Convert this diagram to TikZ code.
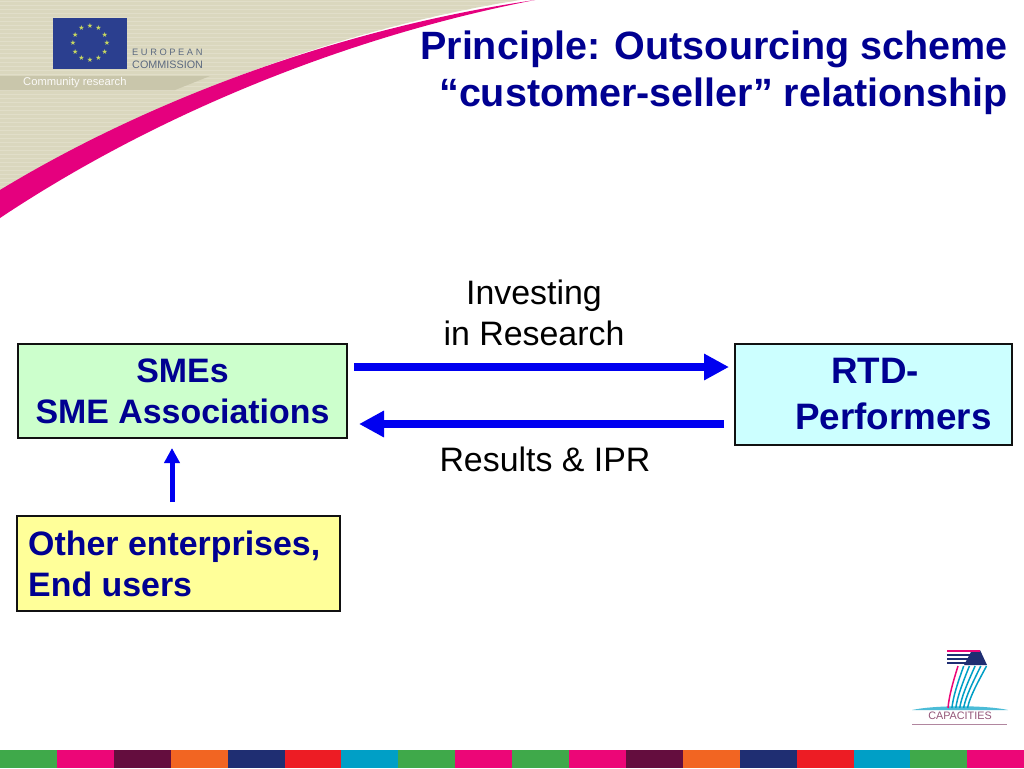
\documentclass[tikz,border=0pt]{standalone}
\usepackage{fontspec}
\setmainfont{Liberation Sans}
\newfontfamily\symfont{DejaVu Sans}
\usetikzlibrary{arrows.meta}
\definecolor{navy}{HTML}{000091}
\definecolor{arrowblue}{HTML}{0000F0}
\definecolor{beige}{HTML}{DAD7BE}
\definecolor{beigeline}{HTML}{E1DEC9}
\definecolor{band}{HTML}{C9C6AB}
\definecolor{swoosh}{HTML}{E5007E}
\definecolor{flagblue}{HTML}{2B3F8F}
\definecolor{ectext}{HTML}{5C6A80}
\definecolor{star}{HTML}{C8D860}
\definecolor{sgreen}{HTML}{3FA94A}
\definecolor{spink}{HTML}{EC0677}
\definecolor{splum}{HTML}{640D3E}
\definecolor{sorange}{HTML}{F26522}
\definecolor{snavy}{HTML}{1F2E72}
\definecolor{sred}{HTML}{ED1C24}
\definecolor{scyan}{HTML}{009FC6}
\definecolor{fillgreen}{HTML}{CCFFCC}
\definecolor{fillcyan}{HTML}{CCFFFF}
\definecolor{fillyellow}{HTML}{FFFF99}
\definecolor{boxline}{HTML}{111111}
\tikzset{
  x=1pt,y=-1pt,
  box/.style={draw=boxline,line width=1.7pt,anchor=north west,inner sep=0pt,outer sep=0pt},
  boxtext/.style={font=\fontsize{33.9}{41}\selectfont\bfseries,text=navy,align=left},
  plain/.style={font=\fontsize{33.9}{40.5}\selectfont,text=black,align=center},
  bigarrow/.style={draw=arrowblue,line width=8pt,-{Triangle[length=25pt,width=25pt]}},
  smallarrow/.style={draw=arrowblue,line width=5pt,-{Triangle[length=15pt,width=15pt]}},
}
\begin{document}
\begin{tikzpicture}
\useasboundingbox (0,0) rectangle (1024,768);
\fill[white] (0,0) rectangle (1024,768);
% header
\fill[beige] (0,0) -- (520,0) .. controls (330,30) and (140,105) .. (0,195) -- cycle;
\begin{scope}
\clip (0,0) -- (520,0) .. controls (330,30) and (140,105) .. (0,195) -- cycle;
\foreach \yy in {2,6,...,194} \draw[beigeline,line width=1pt] (0,\yy) -- (540,\yy);
\end{scope}
\fill[band] (0,76) -- (210,76) -- (175,90) -- (0,90) -- cycle;
\fill[swoosh] (0,190) .. controls (140,105) and (330,30) .. (535,0)
  .. controls (340,38) and (150,118) .. (0,218) -- cycle;
\fill[flagblue] (53,18) rectangle (127,69);
\foreach \a in {0,30,...,330}
  \node[font=\fontsize{7}{7}\selectfont\symfont,text=star,inner sep=0pt] (star\a) at ({90+17*cos(\a)},{43+17*sin(\a)}) {★};
\node[font=\fontsize{9.3}{10}\selectfont,text=ectext,anchor=west,inner sep=0pt] (ec1) at (132,52) {E U R O P E A N};
\node[font=\fontsize{10.8}{10}\selectfont,text=ectext,anchor=west,inner sep=0pt] (ec2) at (132,65) {COMMISSION};
\node[font=\fontsize{11.2}{12}\selectfont,text=white!92!band,anchor=west,inner sep=0pt] (cr) at (23,83) {Community research};
% title
\node[font=\fontsize{39.5}{47}\selectfont\bfseries,text=navy,align=right,anchor=north east,inner sep=0pt] (title) at (1008,31) {Principle: Outsourcing scheme\\“customer-seller” relationship};
% boxes
\node[box,fill=fillgreen,minimum width=329pt,minimum height=94pt] (smes) at (18,344) {};
\node[boxtext,align=center] (smestext) at (182.5,391) {SMEs\\SME Associations};
\node[box,fill=fillcyan,minimum width=277pt,minimum height=101pt] (rtd) at (735,344) {};
\node[font=\fontsize{36.8}{45.5}\selectfont\bfseries,text=navy,align=left,anchor=west,inner sep=0pt] (rtdtext) at (795,394) {\hspace*{36pt}RTD-\\Performers};
\node[box,fill=fillyellow,minimum width=323pt,minimum height=95pt] (other) at (17,516) {};
\node[boxtext,anchor=west,inner sep=0pt] (othertext) at (28,564) {Other enterprises,\\End users};
% labels
\node[plain] (inv) at (534,313) {Investing\\in Research};
\node[plain] (res) at (545,459) {Results \& IPR};
% arrows
\coordinate (a1s) at (354,367); \coordinate (a1e) at (729,367);
\coordinate (a2s) at (724,424); \coordinate (a2e) at (359,424);
\coordinate (a3s) at (172,502); \coordinate (a3e) at (172,448);
\draw[bigarrow] (a1s) -- (a1e);
\draw[bigarrow] (a2s) -- (a2e);
\draw[smallarrow] (a3s) -- (a3e);
% FP7 logo
\fill[scyan!70] (912,710) .. controls (935,705) and (985,705) .. (1008,710) -- cycle;
\fill[snavy] (972,650) -- (980,650) -- (987,665) -- (964,665) -- cycle;
\foreach \i/\c in {0/spink,1/snavy,2/snavy,3/snavy}
  \fill[\c] (947,{650+\i*4}) rectangle ({980+\i*1.7},{652.2+\i*4});
\foreach \i/\c in {0/spink,1/scyan,2/scyan,3/scyan,4/scyan,5/scyan}
  \draw[\c,line width=1.5pt] ({958+\i*5.7},666) .. controls ({953+\i*5},682) and ({949+\i*4.2},696) .. ({948+\i*3.9},708);
\node[font=\fontsize{10.8}{10}\selectfont,text=splum!70!white,inner sep=0pt] (cap) at (960,716) {CAPACITIES};
\draw[splum!50,line width=0.8pt] (912,724) -- (1007,724);
% stripes
\foreach \i/\c in {0/sgreen,1/spink,2/splum,3/sorange,4/snavy,5/sred,6/scyan,7/sgreen,8/spink,9/sgreen,10/spink,11/splum,12/sorange,13/snavy,14/sred,15/scyan,16/sgreen,17/spink}
  \fill[\c] ({\i*56.9},750) rectangle ({(\i+1)*56.9},768);
\end{tikzpicture}
\end{document}
